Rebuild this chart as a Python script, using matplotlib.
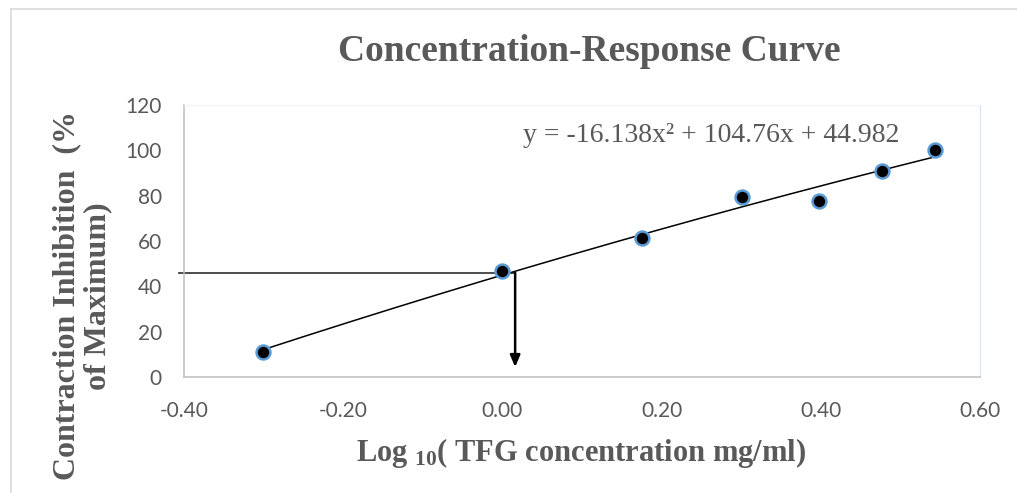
import matplotlib
matplotlib.use("Agg")
import matplotlib.pyplot as plt
from matplotlib.lines import Line2D
import numpy as np

# ---- data ----
log_conc = [-0.301, 0.000, 0.176, 0.301, 0.398, 0.477, 0.544]
inhibition = [11.0, 46.8, 61.3, 79.4, 77.6, 90.9, 100.1]
poly_coeffs = [-16.138, 104.76, 44.982]  # quadratic trendline (a, b, c)
equation_text = "y = -16.138x\u00b2 + 104.76x + 44.982"
ref_x = 0.016   # read-off point on x axis
ref_y = 46.0    # response level
x_ticks = [-0.40, -0.20, 0.00, 0.20, 0.40, 0.60]
y_ticks = [0, 20, 40, 60, 80, 100, 120]

plt.rcParams['mathtext.fontset'] = 'custom'
plt.rcParams['mathtext.rm'] = 'Liberation Serif'
plt.rcParams['mathtext.it'] = 'Liberation Serif:italic'
plt.rcParams['mathtext.bf'] = 'Liberation Serif:bold'

W, H = 1017, 493
fig = plt.figure(figsize=(W / 100, H / 100), dpi=100)
ax = fig.add_axes([184 / W, 1 - 377 / H, 796 / W, 272 / H])

gray = '#595959'
tick_font = ['Lato', 'DejaVu Sans']

# trendline
xs = np.linspace(min(log_conc), max(log_conc), 200)
ax.plot(xs, np.polyval(poly_coeffs, xs), color='black', lw=1.1, zorder=3)

# data points
ax.plot(log_conc, inhibition, linestyle='none', marker='o', markersize=10,
        markerfacecolor='black', markeredgecolor='#5B9BD5', markeredgewidth=1.8,
        zorder=4)

# reference lines
ax.plot([-0.406, ref_x], [ref_y, ref_y], color='#3f3f3f', lw=1.3,
        clip_on=False, zorder=2)
ax.annotate('', xy=(ref_x, 4.4), xytext=(ref_x, ref_y),
            arrowprops=dict(arrowstyle='-|>,head_length=0.7,head_width=0.3',
                            color='black', lw=1.8, shrinkA=0, shrinkB=0),
            zorder=5)

# equation
ax.text(0.026, 103.7, equation_text, fontsize=20, color=gray,
        family=['Liberation Serif', 'DejaVu Serif'], va='baseline', ha='left')

ax.set_xlim(-0.40, 0.60)
ax.set_ylim(0, 120)
ax.set_xticks(x_ticks)
ax.set_xticklabels([f"{v:.2f}" for v in x_ticks])
ax.set_yticks(y_ticks)
ax.set_yticklabels([str(v) for v in y_ticks])
ax.tick_params(axis='both', length=0, labelcolor=gray, labelsize=15)
ax.tick_params(axis='y', pad=16)
ax.tick_params(axis='x', pad=17)
for lab in ax.get_xticklabels() + ax.get_yticklabels():
    lab.set_family(tick_font)

ax.spines['left'].set_color('#bfbfbf')
ax.spines['left'].set_linewidth(1.1)
ax.spines['bottom'].set_color('#bfbfbf')
ax.spines['bottom'].set_linewidth(1.1)
ax.spines['top'].set_color('#eef3fa')
ax.spines['right'].set_color('#d6e3f5')

# title
fig.text(589 / W, 1 - 61 / H, 'Concentration-Response Curve', fontsize=27,
         fontweight='bold', family='Liberation Serif', color=gray,
         ha='center', va='baseline')

# x label
fig.text(581 / W, 1 - 461 / H, r"Log ${}_{\mathbf{10}}$( TFG concentration mg/ml)",
         fontsize=22, fontweight='bold', family='Liberation Serif', color=gray,
         ha='center', va='baseline')

# y label
fig.text(82 / W, 1 - 296 / H, 'Contraction Inhibition  (%\nof Maximum)',
         fontsize=23, fontweight='bold', family='Liberation Serif', color=gray,
         ha='center', va='center', rotation=90, multialignment='center',
         linespacing=1.1)

# chart border (left and top visible)
fig.add_artist(Line2D([11 / W, 11 / W], [0, 1 - 9 / H], transform=fig.transFigure,
                      color='#d9d9d9', lw=1.2))
fig.add_artist(Line2D([11 / W, 1], [1 - 9 / H, 1 - 9 / H], transform=fig.transFigure,
                      color='#d9d9d9', lw=1.2))

fig.savefig('out.png', dpi=100)
